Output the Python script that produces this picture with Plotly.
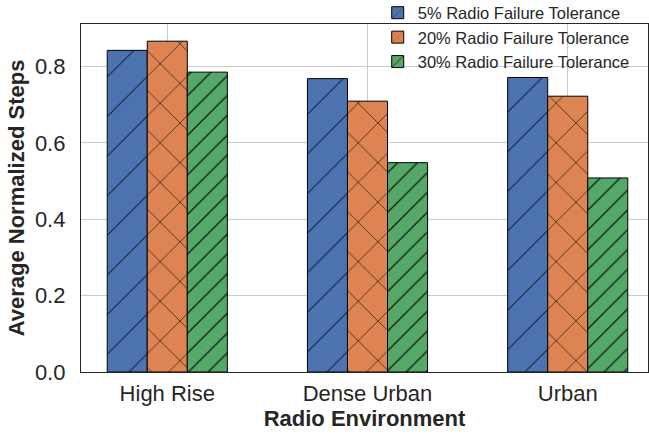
import plotly.graph_objects as go

environments = ["High Rise", "Dense Urban", "Urban"]
series_names = ["5% Radio Failure Tolerance",
                "20% Radio Failure Tolerance",
                "30% Radio Failure Tolerance"]
steps_5 = [0.842, 0.768, 0.771]
steps_20 = [0.866, 0.709, 0.722]
steps_30 = [0.785, 0.548, 0.508]
y_ticks = [0.0, 0.2, 0.4, 0.6, 0.8]

colors = ["#4C72B0", "#DD8452", "#55A868"]
# (shape, tile size, solidity) per series, to mimic matplotlib hatches / x //
hatches = [("/", 28, 0.035), ("x", 28, 0.04), ("/", 14, 0.08)]

FONT = "Liberation Sans, Arial, sans-serif"
TEXT = "#262626"

fig = go.Figure()

# one bar trace per tolerance level, grouped by environment
for name, vals, col, (shape, size, sol) in zip(series_names, [steps_5, steps_20, steps_30], colors, hatches):
    fig.add_trace(go.Bar(
        x=[0, 1, 2],
        y=vals,
        name=name,
        marker=dict(
            color=col,
            line=dict(color="black", width=1),
            pattern=dict(shape=shape, size=size, solidity=sol,
                         fgcolor="black", bgcolor=col, fillmode="replace"),
        ),
    ))

fig.update_layout(
    barmode="group",
    bargap=0.4,
    bargroupgap=0,
    width=649,
    height=436,
    margin=dict(l=81, r=1, t=24, b=64, autoexpand=False),
    plot_bgcolor="white",
    paper_bgcolor="white",
    font=dict(family=FONT, size=22, color=TEXT),
    legend=dict(
        xref="container", yref="paper",
        x=0.582, y=1.082, xanchor="left", yanchor="top",
        bgcolor="rgba(0,0,0,0)",
        font=dict(size=16.5, color=TEXT),
        tracegroupgap=0,
    ),
    showlegend=True,
)

fig.update_xaxes(
    range=[-0.431, 2.401],
    tickmode="array",
    tickvals=[0, 1, 2],
    ticktext=environments,
    showgrid=True,
    gridcolor="#cccccc",
    gridwidth=1,
    zeroline=False,
    showline=True,
    linecolor=TEXT,
    linewidth=1.25,
    mirror=True,
    ticks="",
    ticklabelstandoff=1,
    tickfont=dict(size=22, color=TEXT),
    title=dict(text="<b>Radio Environment</b>", font=dict(size=22, color=TEXT), standoff=1),
)

fig.update_yaxes(
    range=[0, 0.911],
    tickmode="array",
    tickvals=y_ticks,
    ticktext=["%.1f" % v for v in y_ticks],
    showgrid=True,
    gridcolor="#cccccc",
    gridwidth=1,
    zeroline=False,
    showline=True,
    linecolor=TEXT,
    linewidth=1.25,
    mirror=True,
    ticks="",
    ticklabelstandoff=10,
    tickfont=dict(size=22, color=TEXT),
    title=dict(text="<b>Average Normalized Steps</b>", font=dict(size=22, color=TEXT), standoff=4),
)

# page body has a default 8px margin; drop it so the figure sits at 0,0
fig.write_html("out.html", config={"displayModeBar": False},
               post_script="document.body.style.margin='0';")
